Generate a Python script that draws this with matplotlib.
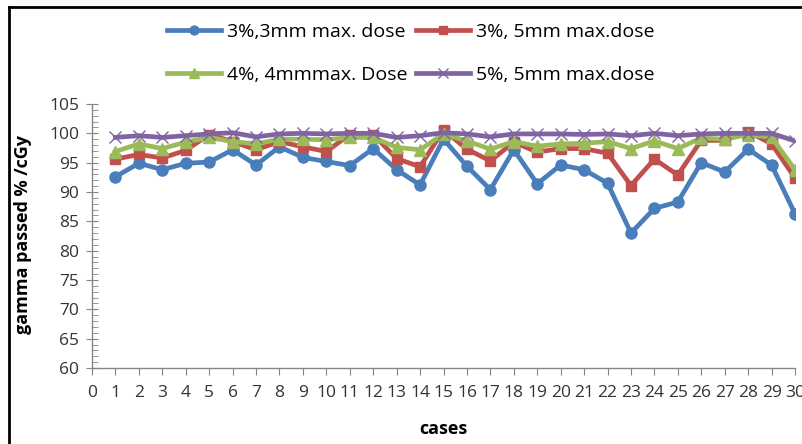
import matplotlib
matplotlib.use("Agg")
import matplotlib.pyplot as plt
from matplotlib.ticker import MultipleLocator

cases = list(range(1, 31))
s_3_3 = [92.6, 94.9, 93.8, 94.9, 95.1, 97.2, 94.6, 97.7, 95.9, 95.2,
         94.5, 97.4, 93.8, 91.2, 99.0, 94.4, 90.4, 97.2, 91.4, 94.6,
         93.8, 91.5, 83.0, 87.2, 88.3, 95.0, 93.4, 97.3, 94.6, 86.3]
s_3_5 = [95.6, 96.4, 95.8, 97.1, 99.8, 98.6, 97.2, 98.6, 97.7, 96.9,
         99.8, 99.8, 95.7, 94.3, 100.6, 97.3, 95.3, 98.5, 96.8, 97.4,
         97.4, 96.6, 91.1, 95.6, 92.9, 98.8, 98.8, 100.3, 98.2, 92.4]
s_4_4 = [96.9, 98.2, 97.4, 98.5, 99.3, 98.6, 98.2, 99.0, 99.0, 98.9,
         99.3, 99.3, 97.6, 97.2, 99.9, 98.7, 97.3, 98.6, 97.8, 98.2,
         98.3, 98.6, 97.4, 98.7, 97.4, 99.2, 99.0, 99.8, 99.3, 93.8]
s_5_5 = [99.3, 99.6, 99.3, 99.6, 99.9, 100.1, 99.4, 99.9, 100.0, 99.9,
         100.0, 100.0, 99.3, 99.6, 100.1, 99.9, 99.4, 99.9, 99.9, 99.9,
         99.8, 99.9, 99.6, 100.0, 99.6, 99.9, 100.0, 100.0, 100.0, 98.7]
labels = ["3%,3mm max. dose", "3%, 5mm max.dose",
          "4%, 4mmmax. Dose", "5%, 5mm max.dose"]
xticks = list(range(0, 31))
yticks = list(range(60, 106, 5))

plt.rcParams['font.family'] = ['Open Sans', 'DejaVu Sans']

W, H = 802, 444
fig = plt.figure(figsize=(W / 100, H / 100), dpi=100)
ax = fig.add_axes([92 / W, 1 - 368 / H, (795 - 92) / W, (368 - 104) / H])

colors = ['#4a7ebb', '#c0504d', '#9bbb59', '#8064a2']
l1, = ax.plot(cases, s_3_3, color=colors[0], lw=3.4, marker='o', ms=8,
              label=labels[0])
l2, = ax.plot(cases, s_3_5, color=colors[1], lw=3.4, marker='s', ms=7.5,
              label=labels[1])
l3, = ax.plot(cases, s_4_4, color=colors[2], lw=3.4, marker='^', ms=8.5,
              label=labels[2])
l4, = ax.plot(cases, s_5_5, color=colors[3], lw=3.4, marker='x', ms=9,
              mew=1.0, label=labels[3])

ax.set_xlim(0, 30)
ax.set_ylim(60, 105)
ax.set_xticks(xticks)
ax.set_yticks(yticks)
ax.yaxis.set_minor_locator(MultipleLocator(1))
for s in ['top', 'right']:
    ax.spines[s].set_visible(False)
for s in ['left', 'bottom']:
    ax.spines[s].set_color('#868686')
    ax.spines[s].set_linewidth(1.0)
ax.tick_params(axis='y', which='major', direction='inout', length=8,
               color='#868686', labelsize=12.5, pad=5)
ax.tick_params(axis='y', which='minor', direction='in', length=4,
               color='#868686')
ax.tick_params(axis='x', which='major', direction='out', length=5,
               color='#868686', labelsize=12.5, pad=7)
for t in ax.get_xticklabels() + ax.get_yticklabels():
    t.set_color('#333333')

ax.set_xlabel('cases', fontsize=13, fontweight='bold', va='center')
ax.set_ylabel('gamma passed % /cGy', fontsize=13, fontweight='bold',
              va='center')
ax.xaxis.set_label_coords((443 - 92) / 703, -(429 - 368) / 264)
ax.yaxis.set_label_coords(-(92 - 23) / 703, (368 - 235) / 264)

leg = fig.legend([l1, l3, l2, l4], [labels[0], labels[2], labels[1], labels[3]],
                 ncol=2, loc='upper left',
                 bbox_to_anchor=(167 / W, 1 - 23 / H),
                 frameon=False, fontsize=14, handlelength=2.8,
                 handletextpad=0.3, columnspacing=0.4, labelspacing=1.27,
                 borderpad=0, borderaxespad=0, markerscale=0.8)

# outer border (left and top)
fig.add_artist(plt.Line2D([9 / W, 9 / W], [0, 1 - 7 / H], color='black',
                          lw=2, transform=fig.transFigure))
fig.add_artist(plt.Line2D([9 / W, 1], [1 - 7 / H, 1 - 7 / H], color='black',
                          lw=2, transform=fig.transFigure))

fig.savefig('out.png', dpi=100)
